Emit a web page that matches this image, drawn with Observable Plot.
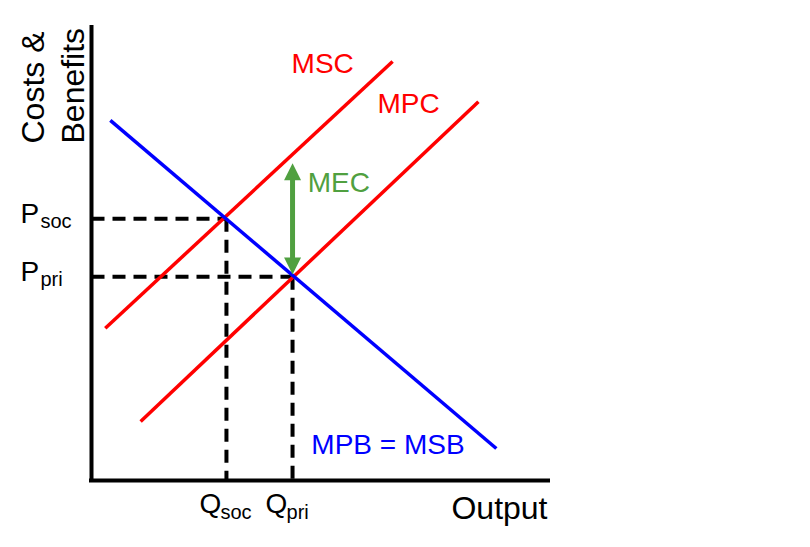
<!DOCTYPE html>
<html>
<head>
<meta charset="utf-8">
<script src="https://cdn.jsdelivr.net/npm/d3@7"></script>
<script src="https://cdn.jsdelivr.net/npm/@observablehq/plot@0.6"></script>
<style>
  html, body { margin: 0; padding: 0; background: #ffffff; }
  #chart { width: 810px; height: 547px; }
</style>
</head>
<body>
<div id="chart"></div>
<script>
// ---- Data (abstract units: Output 0–100, Costs & Benefits 0–100) ----
const curveNames = ["MSC", "MPC", "MPB = MSB"];
const curveStartOutput = [3.0, 10.7, 4.1];
const curveStartCost = [33.3, 12.9, 78.8];
const curveEndOutput = [65.6, 84.3, 88.2];
const curveEndCost = [91.7, 82.9, 7.0];

const equilibriumNames = ["soc", "pri"];
const equilibriumOutput = [29.4, 43.8];
const equilibriumPrice = [57.3, 44.6];

const mecLabel = "MEC";
const mecOutput = 43.8;
const mecTop = 69.4;
const mecBottom = 45.1;

const xAxisTitle = "Output";
const yAxisTitleLines = ["Costs &", "Benefits"];
const priceSymbol = "P";
const quantitySymbol = "Q";

// ---- Build tables ----
const curves = curveNames.map((name, i) => ({
  name, x1: curveStartOutput[i], y1: curveStartCost[i], x2: curveEndOutput[i], y2: curveEndCost[i]
}));
const eq = equilibriumNames.map((name, i) => ({name, x: equilibriumOutput[i], y: equilibriumPrice[i]}));

// ---- Styles ----
const RED = "#ff0000", BLUE = "#0000ff", GREEN = "#50a040";
const curveColor = {"MSC": RED, "MPC": RED, "MPB = MSB": BLUE};
const curveLabelPos = {"MSC": [43.6, 89.1], "MPC": [62.3, 80.5], "MPB = MSB": [47.9, 5.9]};
const FONT = "'Liberation Sans', Arial, sans-serif";

const upHead = {draw(ctx) { ctx.moveTo(0, 0); ctx.lineTo(-8.5, 17); ctx.lineTo(8.5, 17); ctx.closePath(); }};
const downHead = {draw(ctx) { ctx.moveTo(0, 0); ctx.lineTo(-8.5, -17); ctx.lineTo(8.5, -17); ctx.closePath(); }};

const chart = Plot.plot({
  width: 810,
  height: 547,
  marginLeft: 91,
  marginRight: 260,
  marginTop: 23,
  marginBottom: 67,
  x: {domain: [0, 100], axis: null},
  y: {domain: [0, 100], axis: null},
  style: {fontFamily: FONT, background: "#ffffff", overflow: "visible"},
  marks: [
    // dashed guides
    Plot.link(eq, {x1: 0, y1: "y", x2: "x", y2: "y", stroke: "#000", strokeWidth: 4, strokeDasharray: "13,8"}),
    Plot.link(eq, {x1: "x", y1: "y", x2: "x", y2: 0, stroke: "#000", strokeWidth: 4, strokeDasharray: "13,8"}),
    // curves
    Plot.link(curves, {x1: "x1", y1: "y1", x2: "x2", y2: "y2", stroke: d => curveColor[d.name], strokeWidth: 3.5}),
    // axes
    Plot.ruleX([0], {y1: 0, y2: 100, stroke: "#000", strokeWidth: 4, insetBottom: -2}),
    Plot.ruleY([0], {x1: 0, x2: 100, stroke: "#000", strokeWidth: 4, insetLeft: -2}),
    // MEC arrow
    Plot.ruleX([mecOutput], {y1: mecTop, y2: mecBottom, stroke: GREEN, strokeWidth: 5, insetTop: 14, insetBottom: 14}),
    Plot.dot([mecTop], {x: mecOutput, y: d => d, symbol: upHead, fill: GREEN, stroke: "none", r: 5}),
    Plot.dot([mecBottom], {x: mecOutput, y: d => d, symbol: downHead, fill: GREEN, stroke: "none", r: 5}),
    Plot.text([mecLabel], {x: 47.1, y: 63.2, text: d => d, fill: GREEN, fontSize: 28, textAnchor: "start", lineAnchor: "bottom"}),
    // curve labels
    Plot.text(curves, {x: d => curveLabelPos[d.name][0], y: d => curveLabelPos[d.name][1], text: "name",
      fill: d => curveColor[d.name], fontSize: 28, textAnchor: "start", lineAnchor: "bottom"}),
    // price labels
    Plot.text(eq, {x: 0, y: "y", text: () => priceSymbol, fontSize: 28, fill: "#000", textAnchor: "start", lineAnchor: "bottom", dx: -71, dy: 4}),
    Plot.text(eq, {x: 0, y: "y", text: "name", fontSize: 20, fill: "#000", textAnchor: "start", lineAnchor: "bottom", dx: -51, dy: 9}),
    // quantity labels
    Plot.text(eq, {x: "x", y: 0, text: () => quantitySymbol, fontSize: 28, fill: "#000", textAnchor: "start", lineAnchor: "bottom", dx: -27, dy: 32}),
    Plot.text(eq, {x: "x", y: 0, text: "name", fontSize: 20, fill: "#000", textAnchor: "start", lineAnchor: "bottom", dx: -6, dy: 38}),
    // axis titles
    Plot.text([xAxisTitle], {x: 100, y: 0, text: d => d, fontSize: 32, fill: "#000", textAnchor: "end", lineAnchor: "bottom", dx: -3, dy: 38}),
    Plot.text([yAxisTitleLines[0]], {x: 0, y: 100, text: d => d, fontSize: 32, fill: "#000", rotate: -90,
      textAnchor: "start", lineAnchor: "bottom", dx: -48, dy: 120}),
    Plot.text([yAxisTitleLines[1]], {x: 0, y: 100, text: d => d, fontSize: 32, fill: "#000", rotate: -90,
      textAnchor: "start", lineAnchor: "bottom", dx: -8, dy: 120})
  ]
});
document.getElementById("chart").appendChild(chart);
</script>
</body>
</html>
